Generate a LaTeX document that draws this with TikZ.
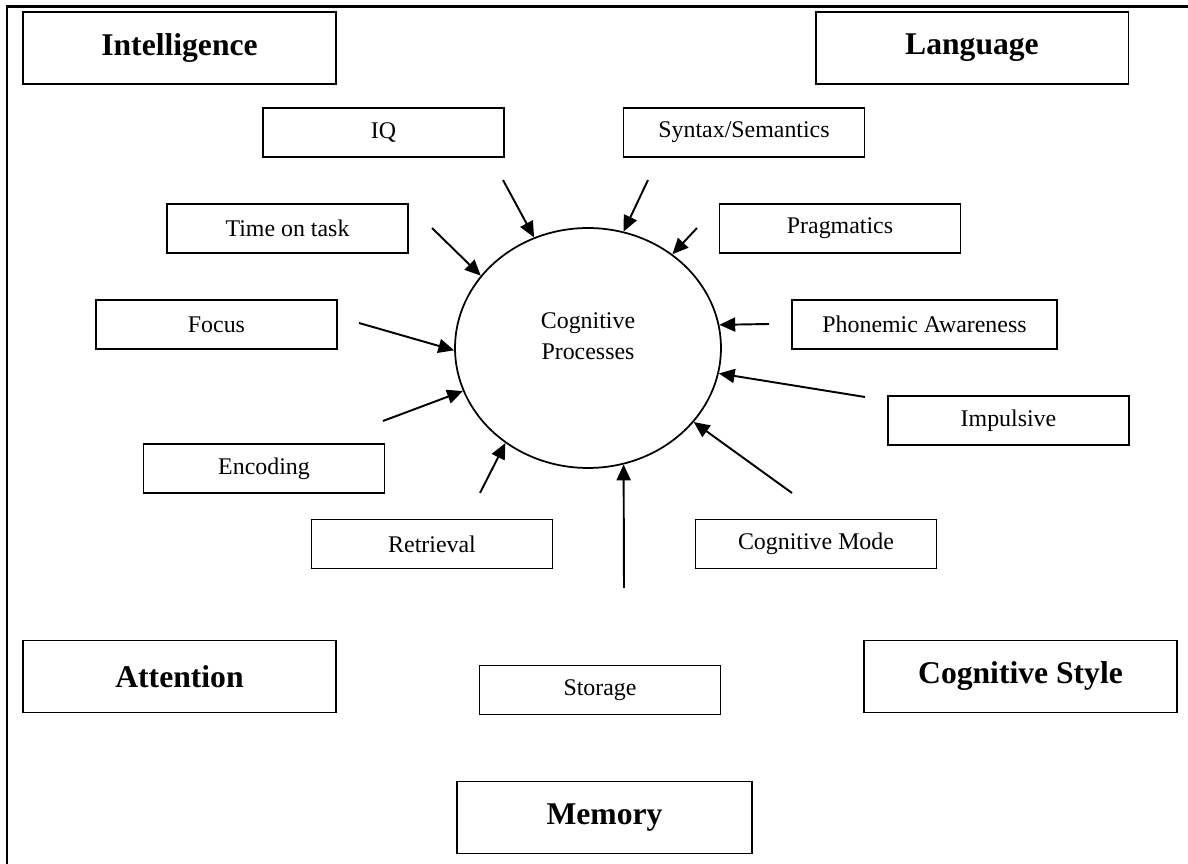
\documentclass[tikz,border=0pt]{standalone}
\usepackage{fontspec}
\setmainfont{Liberation Serif}
\usetikzlibrary{shapes.geometric,arrows.meta}

\tikzset{
  bigbox/.style={draw,line width=1.1pt,minimum width=6.26cm,minimum height=1.44cm,inner sep=0pt,font=\fontsize{18}{21}\selectfont\bfseries},
  smallbox/.style={draw,line width=1.05pt,minimum width=4.82cm,minimum height=0.98cm,inner sep=0pt,font=\fontsize{13.6}{16}\selectfont},
  feed/.style={-{Triangle[length=9pt,width=8pt]},line width=1.1pt}
}

\begin{document}
\begin{tikzpicture}[x=0.02cm,y=-0.02cm]
                \useasboundingbox (0,0) rectangle (1188,864);
                \draw [line width=1.7pt] (7,864) -- (7,7) -- (1188,7);
                % the five headings
                \node[bigbox] (intel) at (179.5,48) {Intelligence};
                \node[bigbox] (lang) at (972,48) {Language};
                \node[bigbox] (atten) at (179.5,676.5) {Attention};
                \node[bigbox] (style) at (1020.5,676.5) {Cognitive Style};
                \node[bigbox,minimum width=5.9cm] (mem) at (604.5,817.5) {Memory};
                % the factors
                \node[smallbox] (iq) at (383.5,132.5) {IQ};
                \node[smallbox] (syntax) at (744,132.5) {Syntax/Semantics};
                \node[smallbox] (time) at (287.5,228.5) {Time on task};
                \node[smallbox] (prag) at (840,228.5) {Pragmatics};
                \node[smallbox] (focus) at (216.5,324.5) {Focus};
                \node[smallbox,minimum width=5.3cm] (phon) at (924.5,324.5) {Phonemic Awareness};
                \node[smallbox] (impul) at (1008.5,420.5) {Impulsive};
                \node[smallbox] (enc) at (264,468.5) {Encoding};
                \node[smallbox] (retr) at (432,544) {Retrieval};
                \node[smallbox] (mode) at (816,544) {Cognitive Mode};
                \node[smallbox] (stor) at (600,690) {Storage};
                % the centre
                \node[draw,ellipse,line width=1pt,minimum width=5.32cm,minimum height=4.8cm,inner sep=0pt] (cp) at (588,348) {};
                \node[align=center,font=\fontsize{13.6}{17.6}\selectfont] (cptext) at (588,336) {Cognitive\\Processes};
                % arrows into the centre
                \coordinate (iqs) at (503,180);
                \coordinate (syns) at (648,180);
                \coordinate (prags) at (697,228);
                \coordinate (times) at (432,228);
                \coordinate (focs) at (359,323);
                \coordinate (encs) at (383,421);
                \coordinate (phons) at (769,324);
                \coordinate (imps) at (865,397);
                \coordinate (modes) at (792,493);
                \coordinate (retrs) at (480,493);
                \coordinate (stors) at (624,588);
                \draw [feed] (iqs) -- (cp.116.8);
                \draw [feed] (syns) -- (cp.73);
                \draw [feed] (prags) -- (cp.48.5);
                \draw [feed] (times) -- (cp.146.3);
                \draw [feed] (focs) -- (cp.181.3);
                \draw [feed] (encs) -- (cp.199.5);
                \draw [feed] (phons) -- (cp.10.3);
                \draw [feed] (imps) -- (cp.349.4);
                \draw [feed] (modes) -- (cp.325.8);
                \draw [feed] (retrs) -- (cp.229);
                \draw [feed] (stors) -- (cp.287.3);
            \end{tikzpicture}
\end{document}
